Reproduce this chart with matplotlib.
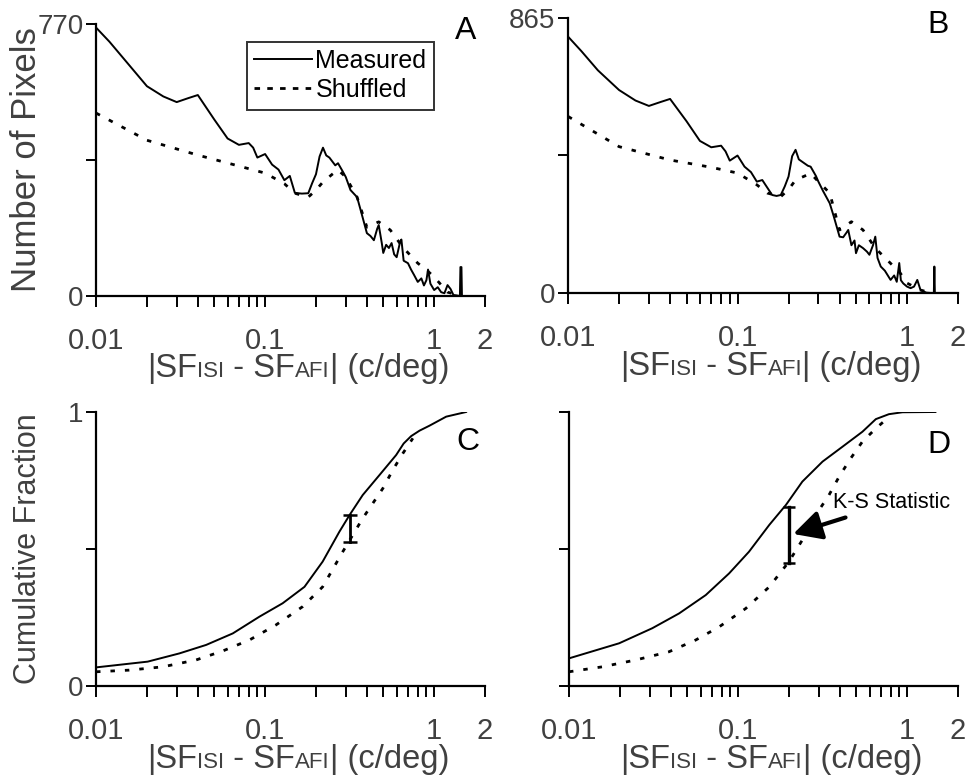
import matplotlib
matplotlib.use("Agg")
import matplotlib.pyplot as plt
from matplotlib.offsetbox import TextArea, HPacker, AnchoredOffsetbox


# ======================================
# DATA
# ======================================

# panel A - histogram, measured
a_meas_x = [0.01, 0.012, 0.015, 0.02, 0.025, 0.03, 0.035, 0.04, 0.05, 0.06, 0.07,
            0.08, 0.085, 0.09, 0.1, 0.11, 0.12, 0.13, 0.14, 0.15, 0.165, 0.18,
            0.19, 0.2, 0.21, 0.22, 0.23, 0.24, 0.26, 0.27, 0.29, 0.3, 0.32,
            0.35, 0.37, 0.4, 0.42, 0.44, 0.46, 0.47, 0.49, 0.5, 0.52, 0.54,
            0.56, 0.58, 0.6, 0.63, 0.64, 0.66, 0.7, 0.73, 0.76, 0.8, 0.84,
            0.87, 0.9, 0.92, 0.95, 1.0, 1.05, 1.1, 1.15, 1.2, 1.25, 1.3,
            1.35, 1.42, 1.43, 1.45, 1.46]
a_meas_y = [760, 720, 665, 594, 565, 549, 560, 569, 500, 446, 428,
            433, 420, 392, 402, 372, 358, 328, 340, 292, 290, 291,
            320, 345, 395, 420, 398, 392, 370, 376, 350, 337, 300,
            280, 238, 178, 170, 158, 190, 201, 150, 122, 145, 136,
            150, 118, 110, 155, 160, 100, 93, 75, 60, 40, 50,
            30, 45, 75, 35, 17, 25, 11, 8, 31, 20, 3,
            2, 0, 82, 82, 0]

# panel A - histogram, shuffled
a_shuf_x = [0.01, 0.02, 0.04, 0.07, 0.1, 0.13, 0.15, 0.18, 0.2, 0.22, 0.25,
            0.27, 0.3, 0.35, 0.4, 0.47, 0.55, 0.65, 0.8, 0.9, 1.0, 1.2, 1.45]
a_shuf_y = [518, 441, 399, 368, 348, 318, 291, 280, 300, 323, 345,
            357, 337, 280, 195, 210, 187, 139, 93, 74, 54, 11, 0]

# panel B - histogram, measured
b_meas_x = [0.01, 0.012, 0.015, 0.02, 0.025, 0.03, 0.035, 0.04, 0.05, 0.06, 0.07,
            0.08, 0.085, 0.09, 0.1, 0.11, 0.12, 0.13, 0.14, 0.16, 0.17, 0.18,
            0.19, 0.2, 0.21, 0.22, 0.23, 0.24, 0.26, 0.27, 0.29, 0.3, 0.32,
            0.35, 0.37, 0.4, 0.42, 0.44, 0.45, 0.47, 0.49, 0.5, 0.52, 0.55,
            0.58, 0.6, 0.63, 0.65, 0.67, 0.7, 0.74, 0.8, 0.84, 0.87, 0.9,
            0.92, 0.95, 1.0, 1.05, 1.1, 1.15, 1.2, 1.25, 1.3, 1.38, 1.44,
            1.45, 1.46, 1.7, 2.0]
b_meas_y = [806, 760, 700, 638, 605, 588, 600, 610, 540, 478, 458,
            463, 445, 416, 432, 397, 380, 350, 355, 308, 305, 308,
            335, 366, 430, 450, 420, 413, 400, 397, 368, 350, 320,
            282, 240, 177, 175, 190, 198, 150, 165, 125, 150, 141,
            130, 120, 150, 177, 110, 83, 70, 41, 55, 35, 94,
            40, 30, 20, 15, 20, 41, 10, 5, 1, 0, 0,
            83, 0, 0, 0]

# panel B - histogram, shuffled
b_shuf_x = [0.01, 0.02, 0.04, 0.07, 0.1, 0.13, 0.15, 0.18, 0.2, 0.22, 0.25,
            0.27, 0.3, 0.35, 0.4, 0.47, 0.55, 0.65, 0.8, 0.9, 1.0, 1.2, 1.4]
b_shuf_y = [555, 460, 418, 395, 377, 340, 314, 303, 325, 355, 368,
            376, 350, 314, 198, 224, 198, 141, 93, 67, 31, 9, 0]

# panel C - cumulative fraction
c_meas_x = [0.01, 0.0202, 0.0311, 0.0448, 0.0644, 0.0925, 0.127, 0.171,
            0.219, 0.275, 0.316, 0.378, 0.475, 0.596, 0.66, 0.731, 0.82,
            0.938, 1.178, 1.545]
c_meas_y = [0.068, 0.089, 0.119, 0.150, 0.192, 0.253, 0.302, 0.362,
            0.454, 0.563, 0.624, 0.697, 0.770, 0.843, 0.885, 0.912, 0.932,
            0.950, 0.983, 1.0]
c_shuf_x = [0.01, 0.0157, 0.0248, 0.039, 0.0562, 0.0808, 0.116, 0.167,
            0.219, 0.288, 0.378, 0.497, 0.569, 0.653, 0.748]
c_shuf_y = [0.052, 0.058, 0.070, 0.095, 0.128, 0.168, 0.223, 0.290,
            0.362, 0.490, 0.612, 0.721, 0.788, 0.849, 0.904]
c_ks = (0.316, 0.524, 0.624)

# panel D - cumulative fraction
d_meas_x = [0.01, 0.0198, 0.0311, 0.0448, 0.0644, 0.0885, 0.116, 0.153,
            0.192, 0.240, 0.316, 0.414, 0.544, 0.653, 0.78, 0.938, 1.47]
d_meas_y = [0.101, 0.156, 0.211, 0.265, 0.332, 0.411, 0.490, 0.588,
            0.661, 0.746, 0.819, 0.873, 0.928, 0.974, 0.992, 0.999, 1.0]
d_shuf_x = [0.01, 0.0157, 0.0248, 0.039, 0.0562, 0.0773, 0.111, 0.153,
            0.200, 0.240, 0.288, 0.345, 0.396, 0.464, 0.544, 0.653, 0.765]
d_shuf_y = [0.052, 0.070, 0.095, 0.125, 0.168, 0.216, 0.283, 0.362,
            0.454, 0.533, 0.624, 0.697, 0.764, 0.831, 0.892, 0.940, 0.977]
d_ks = (0.2, 0.448, 0.655)

x_major = [0.01, 0.1, 1, 2]
x_major_labels = ["0.01", "0.1", "1", "2"]
x_minor = [0.02, 0.03, 0.04, 0.05, 0.06, 0.07, 0.08, 0.09,
           0.2, 0.3, 0.4, 0.5, 0.6, 0.7, 0.8, 0.9]


# ======================================
# STYLE
# ======================================

plt.rcParams["font.family"] = ["Liberation Sans", "DejaVu Sans"]
GRAY = "#404040"
DASH = (0, (1.6, 3.6))

fig = plt.figure(figsize=(9.74, 7.75), dpi=100)

ax_a = fig.add_axes([0.0986, 0.618, 0.3994, 0.351])
ax_b = fig.add_axes([0.5832, 0.622, 0.4004, 0.355])
ax_c = fig.add_axes([0.0986, 0.1148, 0.3994, 0.3536])
ax_d = fig.add_axes([0.5842, 0.1148, 0.3994, 0.3536])


def style_axis(ax, ymax, ylabels):
    ax.set_xscale("log")
    ax.set_xlim(0.01, 2)
    ax.set_ylim(0, ymax)
    ax.spines["top"].set_visible(False)
    ax.spines["right"].set_visible(False)
    for s in ["left", "bottom"]:
        ax.spines[s].set_linewidth(1.6)
    ax.set_xticks(x_major)
    ax.set_xticklabels(x_major_labels)
    ax.set_xticks(x_minor, minor=True)
    ax.set_xticklabels([], minor=True)
    ax.set_yticks([0, ymax / 2, ymax])
    ax.set_yticklabels(ylabels)
    ax.tick_params(axis="x", which="both", direction="out", length=8,
                   width=1.4, pad=14, labelsize=21, labelcolor=GRAY)
    ax.tick_params(axis="y", direction="out", length=7, width=1.4,
                   pad=2, labelsize=20, labelcolor=GRAY)
    # |SF_ISI - SF_AFI| (c/deg) with small caps, baseline aligned
    parts = [("|SF", 23.5), ("ISI", 16), (" - SF", 23.5), ("AFI", 16),
             ("| (c/deg)", 23.5)]
    boxes = [TextArea(t, textprops=dict(fontsize=fs, color=GRAY))
             for t, fs in parts]
    pack = HPacker(children=boxes, align="baseline", pad=0, sep=0)
    anchored = AnchoredOffsetbox(loc="upper center", child=pack, pad=0,
                                 borderpad=0, frameon=False,
                                 bbox_to_anchor=(0.52, -0.21),
                                 bbox_transform=ax.transAxes)
    ax.add_artist(anchored)


# ======================================
# PANEL A
# ======================================

style_axis(ax_a, 770, ["0", "", "770"])
ax_a.plot(a_meas_x, a_meas_y, color="black", lw=1.4, label="Measured")
ax_a.plot(a_shuf_x, a_shuf_y, color="black", lw=2.0, linestyle=DASH,
          label="Shuffled")
ax_a.set_ylabel("Number of Pixels", fontsize=25, color=GRAY, labelpad=-4)
leg = ax_a.legend(loc="upper left", bbox_to_anchor=(0.387, 0.935),
                  fontsize=18, frameon=True, fancybox=False,
                  handlelength=2.3, handletextpad=0.15, borderpad=0.3,
                  labelspacing=0.2, borderaxespad=0)
leg.get_frame().set_edgecolor("black")
leg.get_frame().set_linewidth(1.4)
leg.get_lines()[1].set_linestyle((0, (2.0, 2.6)))
ax_a.text(0.95, 0.975, "A", transform=ax_a.transAxes, fontsize=23,
          ha="center", va="center")

# ======================================
# PANEL B
# ======================================

style_axis(ax_b, 865, ["0", "", "865"])
ax_b.plot(b_meas_x, b_meas_y, color="black", lw=1.4)
ax_b.plot(b_shuf_x, b_shuf_y, color="black", lw=2.0, linestyle=DASH)
ax_b.text(0.95, 0.975, "B", transform=ax_b.transAxes, fontsize=23,
          ha="center", va="center")

# ======================================
# PANEL C
# ======================================

style_axis(ax_c, 1, ["0", "", "1"])
ax_c.plot(c_meas_x, c_meas_y, color="black", lw=1.4)
ax_c.plot(c_shuf_x, c_shuf_y, color="black", lw=2.0, linestyle=DASH)
ax_c.plot([c_ks[0], c_ks[0]], [c_ks[1], c_ks[2]], color="black", lw=2,
          marker="_", markersize=10, markeredgewidth=1.8)
ax_c.set_ylabel("Cumulative Fraction", fontsize=22, color=GRAY, labelpad=18)
ax_c.text(0.955, 0.89, "C", transform=ax_c.transAxes, fontsize=23,
          ha="center", va="center")

# ======================================
# PANEL D
# ======================================

style_axis(ax_d, 1, ["", "", ""])
ax_d.plot(d_meas_x, d_meas_y, color="black", lw=1.4)
ax_d.plot(d_shuf_x, d_shuf_y, color="black", lw=2.0, linestyle=DASH)
ax_d.plot([d_ks[0], d_ks[0]], [d_ks[1], d_ks[2]], color="black", lw=2.4,
          marker="_", markersize=8, markeredgewidth=1.8)
ax_d.annotate("K-S Statistic", xy=(0.212, 0.555), xytext=(0.365, 0.668),
              fontsize=15.5, ha="left", va="center",
              arrowprops=dict(arrowstyle="-|>,head_length=0.5,head_width=0.26",
                              color="black", lw=3,
                              mutation_scale=34, shrinkA=3, shrinkB=0))
ax_d.text(0.95, 0.88, "D", transform=ax_d.transAxes, fontsize=23,
          ha="center", va="center")

plt.savefig("out.png", dpi=100)
